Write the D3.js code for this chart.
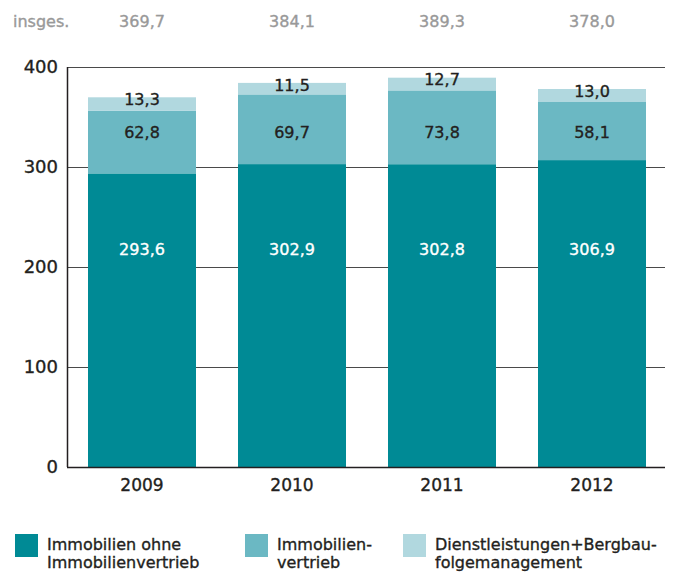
<!DOCTYPE html>
<html>
<head>
<meta charset="utf-8">
<script src="https://cdn.jsdelivr.net/npm/d3@7"></script>
<style>
  body { margin: 0; background: #fff; }
  text { font-family: "DejaVu Sans", sans-serif; stroke-width: 0.35px; }
</style>
</head>
<body>
<svg id="chart" width="681" height="573"></svg>
<script>
// data
const years = ["2009", "2010", "2011", "2012"];
const immoOhne = [293.6, 302.9, 302.8, 306.9];
const immoVertrieb = [62.8, 69.7, 73.8, 58.1];
const dienst = [13.3, 11.5, 12.7, 13.0];
const totals = [369.7, 384.1, 389.3, 378.0];
const yTicks = [0, 100, 200, 300, 400];
const seriesNames = [["Immobilien ohne", "Immobilienvertrieb"], ["Immobilien-", "vertrieb"], ["Dienstleistungen+Bergbau-", "folgemanagement"]];
const colors = ["#008a95", "#6bb8c3", "#b1d8df"];

const fmt = v => d3.format(".1f")(v).replace(".", ",");

const svg = d3.select("#chart");

let x = d3.scaleBand()
  .domain(years)
  .range([67, 667])
  .paddingInner(0.28)
  .paddingOuter(0.14);

let y = d3.scaleLinear()
  .domain([0, 400])
  .range([467, 67]);

// grid lines
svg.append("g")
  .selectAll("line")
  .data(yTicks.filter(d => d > 0))
  .join("line")
  .attr("x1", 67)
  .attr("x2", 665)
  .attr("y1", d => y(d) + 0.5)
  .attr("y2", d => y(d) + 0.5)
  .attr("stroke", "#4a4a4a")
  .attr("stroke-width", 1.2);

// stacked bars
const rows = years.map((yr, i) => ({ year: yr, a: immoOhne[i], b: immoVertrieb[i], c: dienst[i] }));
const stack = d3.stack().keys(["a", "b", "c"])(rows);

svg.append("g")
  .selectAll("g")
  .data(stack)
  .join("g")
  .attr("fill", (d, i) => colors[i])
  .selectAll("rect")
  .data(d => d)
  .join("rect")
  .attr("x", d => x(d.data.year))
  .attr("width", x.bandwidth())
  .attr("y", d => y(d[1]))
  .attr("height", d => y(d[0]) - y(d[1]));

// y axis line + baseline
svg.append("line")
  .attr("x1", 67.5).attr("x2", 67.5)
  .attr("y1", y(400)).attr("y2", y(0))
  .attr("stroke", "#231f20").attr("stroke-width", 1.5);
svg.append("line")
  .attr("x1", 67).attr("x2", 665)
  .attr("y1", y(0) + 0.5).attr("y2", y(0) + 0.5)
  .attr("stroke", "#231f20").attr("stroke-width", 1.6);

// y tick labels
svg.append("g")
  .selectAll("text")
  .data(yTicks)
  .join("text")
  .attr("x", 58)
  .attr("y", d => y(d))
  .attr("dy", "0.35em")
  .attr("text-anchor", "end")
  .attr("font-size", 18)
  .attr("fill", "#231f20")
  .attr("stroke", "#231f20")
  .text(d => d);

// year labels
svg.append("g")
  .selectAll("text")
  .data(years)
  .join("text")
  .attr("x", d => x(d) + x.bandwidth() / 2)
  .attr("y", 491)
  .attr("text-anchor", "middle")
  .attr("font-size", 17)
  .attr("fill", "#231f20")
  .attr("stroke", "#231f20")
  .text(d => d);

// value labels
const cx = i => x(years[i]) + x.bandwidth() / 2;
const labels = svg.append("g").attr("text-anchor", "middle").attr("font-size", 16);

labels.selectAll(".lbl-a")
  .data(immoOhne)
  .join("text")
  .attr("x", (d, i) => cx(i))
  .attr("y", y(218))
  .attr("dy", "0.35em")
  .attr("fill", "#fff")
  .attr("stroke", "#fff")
  .text(fmt);

labels.selectAll(".lbl-b")
  .data(immoVertrieb)
  .join("text")
  .attr("x", (d, i) => cx(i))
  .attr("y", y(335))
  .attr("dy", "0.35em")
  .attr("fill", "#231f20")
  .attr("stroke", "#231f20")
  .text(fmt);

labels.selectAll(".lbl-c")
  .data(dienst)
  .join("text")
  .attr("x", (d, i) => cx(i))
  .attr("y", (d, i) => y(totals[i]) + 2)
  .attr("dy", "0.35em")
  .attr("fill", "#231f20")
  .attr("stroke", "#231f20")
  .text(fmt);

// totals row
svg.append("text")
  .attr("x", 13).attr("y", 27)
  .attr("font-size", 16).attr("fill", "#999")
  .attr("stroke", "#999")
  .text("insges.");
svg.append("g")
  .selectAll("text")
  .data(totals)
  .join("text")
  .attr("x", (d, i) => cx(i))
  .attr("y", 27)
  .attr("text-anchor", "middle")
  .attr("font-size", 16)
  .attr("fill", "#999")
  .attr("stroke", "#999")
  .text(fmt);

// legend
const legendX = [15, 245, 403];
const legend = svg.append("g")
  .selectAll("g")
  .data(seriesNames)
  .join("g")
  .attr("transform", (d, i) => `translate(${legendX[i]},534)`);

legend.append("rect")
  .attr("width", 23).attr("height", 23)
  .attr("fill", (d, i) => colors[i]);

legend.selectAll("text")
  .data(d => d)
  .join("text")
  .attr("x", 32)
  .attr("y", (d, i) => 16 + i * 18)
  .attr("font-size", 16)
  .attr("fill", "#231f20")
  .attr("stroke", "#231f20")
  .text(d => d);
</script>
</body>
</html>
